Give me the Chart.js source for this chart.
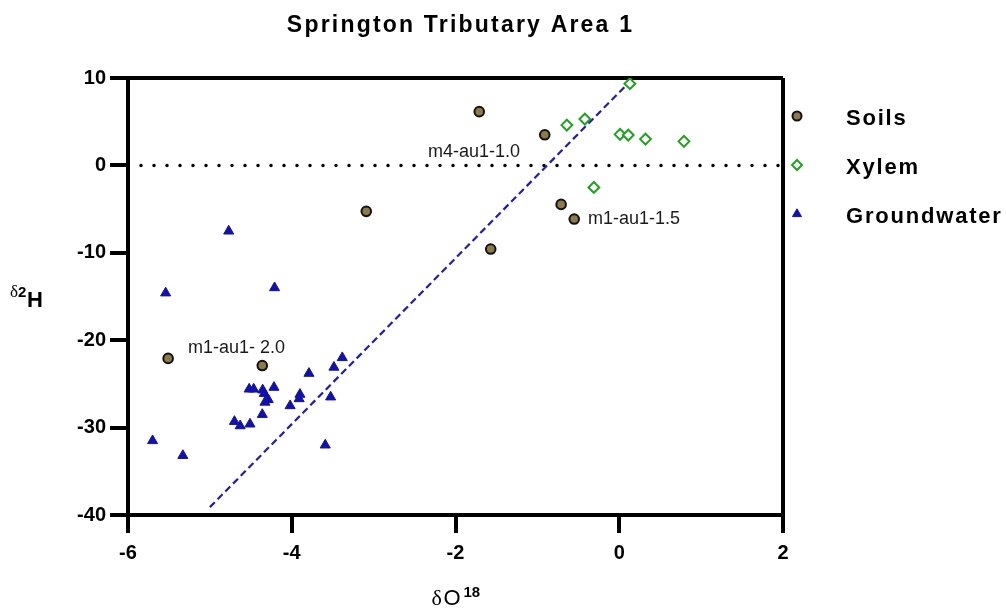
<!DOCTYPE html>
<html>
<head>
<meta charset="utf-8">
<script src="https://cdn.jsdelivr.net/npm/chart.js@4/dist/chart.umd.min.js"></script>
<style>
html,body{margin:0;padding:0;background:#fff;}
#wrap{width:1006px;height:613px;position:relative;}
</style>
</head>
<body>
<div id="wrap"><canvas id="c" width="1006" height="613"></canvas></div>
<script>
// ---- data ----
const chartTitle = "Springton Tributary Area 1";
const seriesNames = ["Soils", "Xylem", "Groundwater"];

const soilsX = [-1.71, -0.91, -3.09, -0.71, -0.55, -1.57, -5.51, -4.36];
const soilsY = [6.15, 3.5, -5.26, -4.46, -6.14, -9.57, -22.08, -22.9];

const xylemX = [0.13, -0.64, -0.42, 0.01, 0.11, 0.32, 0.79, -0.31];
const xylemY = [9.35, 4.61, 5.3, 3.55, 3.47, 3.01, 2.75, -2.52];

const gwX = [-4.77, -5.54, -4.21, -5.70, -5.33, -4.70, -4.63, -4.51, -4.52, -4.465, -4.355, -4.217, -4.336, -4.287, -4.327, -4.36, -4.02, -3.90, -3.91, -3.79, -3.485, -3.383, -3.525, -3.591];
const gwY = [-7.52, -14.6, -14.0, -31.5, -33.2, -29.3, -29.8, -29.6, -25.6, -25.6, -25.7, -25.4, -26.1, -26.8, -27.1, -28.5, -27.5, -26.2, -26.7, -23.8, -23.1, -22.0, -26.5, -32.0];

const trendX = [-5.0, 0.13];
const trendY = [-39.1, 9.6];

const zeroLineX = [-6, 2];
const zeroLineY = [0, 0];

const xTicks = [-6, -4, -2, 0, 2];
const yTicks = [-40, -30, -20, -10, 0, 10];

const pointLabels = ["m4-au1-1.0", "m1-au1-1.5", "m1-au1- 2.0"];
const pointLabelX = [-2.337, -0.383, -5.267];
const pointLabelY = [1.49, -6.18, -20.9];

// ---- helpers ----
const pts = (xs, ys) => xs.map((x, i) => ({x: x, y: ys[i]}));
const SOIL = 'rgb(140,122,76)';
const GREEN = 'rgb(34,160,34)';
const BLUE = 'rgb(18,18,168)';
const SANS = 'Arial, "Liberation Sans", sans-serif';
const SERIF = '"Liberation Serif", "DejaVu Serif", serif';

function drawMarker(ctx, style, x, y, r, fill, stroke, bw) {
  ctx.save();
  ctx.beginPath();
  if (style === 'circle') {
    ctx.arc(x, y, r, 0, Math.PI * 2);
  } else if (style === 'rectRot') {
    ctx.moveTo(x, y - r); ctx.lineTo(x + r, y); ctx.lineTo(x, y + r); ctx.lineTo(x - r, y);
    ctx.closePath();
  } else {
    const a = -Math.PI / 2;
    for (let k = 0; k < 3; k++) {
      const ang = a + k * 2 * Math.PI / 3;
      const px = x + r * Math.cos(ang), py = y + r * Math.sin(ang);
      if (k === 0) ctx.moveTo(px, py); else ctx.lineTo(px, py);
    }
    ctx.closePath();
  }
  ctx.fillStyle = fill; ctx.fill();
  if (bw > 0) { ctx.lineWidth = bw; ctx.strokeStyle = stroke; ctx.stroke(); }
  ctx.restore();
}

const decorPlugin = {
  id: 'decor',
  afterDraw(chart) {
    const ctx = chart.ctx;
    const ca = chart.chartArea;
    const xs = chart.scales.x, ys = chart.scales.y;
    ctx.save();
    // title
    ctx.fillStyle = '#000';
    ctx.font = 'bold 23px ' + SANS;
    ctx.letterSpacing = '2.2px';
    ctx.textAlign = 'center';
    ctx.textBaseline = 'alphabetic';
    ctx.fillText(chartTitle, (ca.left + ca.right) / 2 + 5, 32);
    ctx.letterSpacing = '0px';

    // point annotations
    ctx.font = '18px ' + SANS;
    ctx.textAlign = 'left';
    ctx.textBaseline = 'middle';
    ctx.fillStyle = '#1a1a1a';
    pointLabels.forEach((t, i) => {
      ctx.fillText(t, xs.getPixelForValue(pointLabelX[i]), ys.getPixelForValue(pointLabelY[i]));
    });

    // legend
    const legendDs = chart.data.datasets.filter(d => d.inLegend);
    ctx.font = 'bold 22px ' + SANS;
    ctx.letterSpacing = '1.8px';
    ctx.textAlign = 'left';
    ctx.textBaseline = 'alphabetic';
    ctx.fillStyle = '#000';
    legendDs.forEach((d, i) => {
      const cy = 116 + i * 49;
      drawMarker(ctx, d.pointStyle, 797, cy, d.legendR, d.pointBackgroundColor, d.pointBorderColor, d.pointBorderWidth);
      ctx.fillText(d.label, 846, cy + 8.5);
    });
    ctx.letterSpacing = '0px';

    // y axis title: δ2H
    const ymid = (ca.top + ca.bottom) / 2;
    ctx.textAlign = 'left';
    ctx.font = '17px ' + SERIF;
    ctx.fillText('\u03b4', 10, ymid);
    ctx.font = 'bold 15px ' + SANS;
    ctx.fillText('2', 18, ymid);
    ctx.font = 'bold 22px ' + SANS;
    ctx.fillText('H', 27, ymid + 10.5);

    // x axis title: δO18
    const xmid = (ca.left + ca.right) / 2;
    ctx.font = '22px ' + SERIF;
    ctx.fillText('\u03b4', xmid - 24, 605);
    ctx.font = '22px ' + SANS;
    ctx.fillText('O', xmid - 12, 605);
    ctx.font = 'bold 15px ' + SANS;
    ctx.fillText('18', xmid + 8, 597);
    ctx.restore();
  }
};

const chart = new Chart(document.getElementById('c'), {
  type: 'scatter',
  data: {
    datasets: [
      {
        label: 'zero', data: pts(zeroLineX, zeroLineY), showLine: true,
        borderColor: '#000', borderWidth: 3.5, borderDash: [0, 13], borderCapStyle: 'round',
        pointRadius: 0, pointHoverRadius: 0, order: 5
      },
      {
        label: 'trend', data: pts(trendX, trendY), showLine: true,
        borderColor: 'rgb(30,30,175)', borderWidth: 2.2, borderDash: [7, 4],
        pointRadius: 0, pointHoverRadius: 0, order: 4
      },
      {
        label: seriesNames[0], inLegend: true, legendR: 4.5, data: pts(soilsX, soilsY),
        pointStyle: 'circle', pointRadius: 4.8, pointBackgroundColor: SOIL,
        pointBorderColor: '#111', pointBorderWidth: 2, order: 1
      },
      {
        label: seriesNames[1], inLegend: true, legendR: 5, data: pts(xylemX, xylemY),
        pointStyle: 'rectRot', pointRadius: 5.4, pointBackgroundColor: '#fff',
        pointBorderColor: GREEN, pointBorderWidth: 2, order: 2
      },
      {
        label: seriesNames[2], inLegend: true, legendR: 5.2, data: pts(gwX, gwY),
        pointStyle: 'triangle', pointRadius: 5.8, pointBackgroundColor: BLUE,
        pointBorderColor: BLUE, pointBorderWidth: 1, order: 3
      }
    ]
  },
  options: {
    responsive: false,
    devicePixelRatio: 1,
    animation: false,
    layout: {padding: {left: 0, top: 78, right: 223, bottom: 0}},
    plugins: {legend: {display: false}, title: {display: false}, tooltip: {enabled: false}},
    scales: {
      x: {
        type: 'linear', min: -6, max: 2,
        afterBuildTicks: s => { s.ticks = xTicks.map(v => ({value: v})); },
        afterFit: s => { s.height = 98; },
        ticks: {color: '#000', padding: 8, font: {family: SANS, size: 20, weight: 'bold'}},
        grid: {
          drawOnChartArea: true, drawTicks: true, tickLength: 18, lineWidth: 4, tickWidth: 4,
          tickColor: '#000',
          color: c => (c.tick && c.tick.value === 2) ? '#000' : 'rgba(0,0,0,0)'
        },
        border: {display: true, color: '#000', width: 4}
      },
      y: {
        type: 'linear', min: -40, max: 10,
        afterBuildTicks: s => { s.ticks = yTicks.map(v => ({value: v})); },
        afterFit: s => { s.width = 128; },
        ticks: {color: '#000', padding: 4, font: {family: SANS, size: 20, weight: 'bold'}},
        grid: {
          drawOnChartArea: true, drawTicks: true, tickLength: 18, lineWidth: 4, tickWidth: 4,
          tickColor: '#000',
          color: c => (c.tick && c.tick.value === 10) ? '#000' : 'rgba(0,0,0,0)'
        },
        border: {display: true, color: '#000', width: 4}
      }
    }
  },
  plugins: [decorPlugin]
});
</script>
</body>
</html>
